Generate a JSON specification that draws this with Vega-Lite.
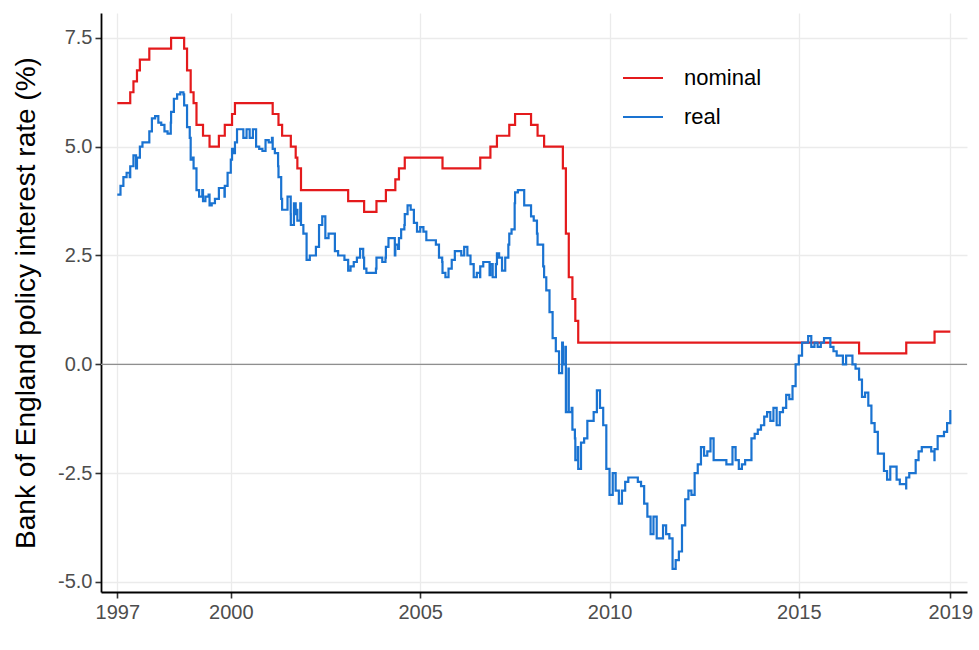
{
  "$schema": "https://vega.github.io/schema/vega-lite/v6.json",
  "autosize": {"type": "none"},
  "padding": {"left": 101, "top": 13, "right": 12, "bottom": 58},
  "width": 866,
  "height": 579,
  "background": "white",
  "config": {
    "font": "Liberation Sans",
    "view": {"stroke": null}
  },
  "datasets": {
    "rates": [
      {"date":"1997-01-01","series":"nominal","rate":6.0},
      {"date":"1997-05-06","series":"nominal","rate":6.25},
      {"date":"1997-06-06","series":"nominal","rate":6.5},
      {"date":"1997-07-10","series":"nominal","rate":6.75},
      {"date":"1997-08-07","series":"nominal","rate":7.0},
      {"date":"1997-11-06","series":"nominal","rate":7.25},
      {"date":"1998-06-04","series":"nominal","rate":7.5},
      {"date":"1998-10-08","series":"nominal","rate":7.25},
      {"date":"1998-11-05","series":"nominal","rate":6.75},
      {"date":"1998-12-10","series":"nominal","rate":6.25},
      {"date":"1999-01-07","series":"nominal","rate":6.0},
      {"date":"1999-02-04","series":"nominal","rate":5.5},
      {"date":"1999-04-08","series":"nominal","rate":5.25},
      {"date":"1999-06-10","series":"nominal","rate":5.0},
      {"date":"1999-09-08","series":"nominal","rate":5.25},
      {"date":"1999-11-04","series":"nominal","rate":5.5},
      {"date":"2000-01-13","series":"nominal","rate":5.75},
      {"date":"2000-02-10","series":"nominal","rate":6.0},
      {"date":"2001-02-08","series":"nominal","rate":5.75},
      {"date":"2001-04-05","series":"nominal","rate":5.5},
      {"date":"2001-05-10","series":"nominal","rate":5.25},
      {"date":"2001-08-02","series":"nominal","rate":5.0},
      {"date":"2001-09-18","series":"nominal","rate":4.75},
      {"date":"2001-10-04","series":"nominal","rate":4.5},
      {"date":"2001-11-08","series":"nominal","rate":4.0},
      {"date":"2003-02-06","series":"nominal","rate":3.75},
      {"date":"2003-07-10","series":"nominal","rate":3.5},
      {"date":"2003-11-06","series":"nominal","rate":3.75},
      {"date":"2004-02-05","series":"nominal","rate":4.0},
      {"date":"2004-05-06","series":"nominal","rate":4.25},
      {"date":"2004-06-10","series":"nominal","rate":4.5},
      {"date":"2004-08-05","series":"nominal","rate":4.75},
      {"date":"2005-08-04","series":"nominal","rate":4.5},
      {"date":"2006-08-03","series":"nominal","rate":4.75},
      {"date":"2006-11-09","series":"nominal","rate":5.0},
      {"date":"2007-01-11","series":"nominal","rate":5.25},
      {"date":"2007-05-10","series":"nominal","rate":5.5},
      {"date":"2007-07-05","series":"nominal","rate":5.75},
      {"date":"2007-12-06","series":"nominal","rate":5.5},
      {"date":"2008-02-07","series":"nominal","rate":5.25},
      {"date":"2008-04-10","series":"nominal","rate":5.0},
      {"date":"2008-10-08","series":"nominal","rate":4.5},
      {"date":"2008-11-06","series":"nominal","rate":3.0},
      {"date":"2008-12-04","series":"nominal","rate":2.0},
      {"date":"2009-01-08","series":"nominal","rate":1.5},
      {"date":"2009-02-05","series":"nominal","rate":1.0},
      {"date":"2009-03-05","series":"nominal","rate":0.5},
      {"date":"2016-08-04","series":"nominal","rate":0.25},
      {"date":"2017-11-02","series":"nominal","rate":0.5},
      {"date":"2018-08-02","series":"nominal","rate":0.75},
      {"date":"2019-01-01","series":"nominal","rate":0.75},

      {"date":"1997-01-01","series":"real","rate":3.9},
      {"date":"1997-02-01","series":"real","rate":4.1},
      {"date":"1997-03-01","series":"real","rate":4.3},
      {"date":"1997-04-01","series":"real","rate":4.4},
      {"date":"1997-05-01","series":"real","rate":4.3},
      {"date":"1997-05-06","series":"real","rate":4.55},
      {"date":"1997-06-01","series":"real","rate":4.55},
      {"date":"1997-06-06","series":"real","rate":4.8},
      {"date":"1997-07-01","series":"real","rate":4.5},
      {"date":"1997-07-10","series":"real","rate":4.75},
      {"date":"1997-08-01","series":"real","rate":4.75},
      {"date":"1997-08-07","series":"real","rate":5.0},
      {"date":"1997-09-01","series":"real","rate":5.1},
      {"date":"1997-10-01","series":"real","rate":5.1},
      {"date":"1997-11-01","series":"real","rate":5.1},
      {"date":"1997-11-06","series":"real","rate":5.35},
      {"date":"1997-12-01","series":"real","rate":5.65},
      {"date":"1998-01-01","series":"real","rate":5.7},
      {"date":"1998-02-01","series":"real","rate":5.55},
      {"date":"1998-03-01","series":"real","rate":5.5},
      {"date":"1998-04-01","series":"real","rate":5.35},
      {"date":"1998-05-01","series":"real","rate":5.3},
      {"date":"1998-06-01","series":"real","rate":5.55},
      {"date":"1998-06-04","series":"real","rate":5.8},
      {"date":"1998-07-01","series":"real","rate":6.1},
      {"date":"1998-08-01","series":"real","rate":6.2},
      {"date":"1998-09-01","series":"real","rate":6.25},
      {"date":"1998-10-01","series":"real","rate":6.2},
      {"date":"1998-10-08","series":"real","rate":5.95},
      {"date":"1998-11-01","series":"real","rate":5.95},
      {"date":"1998-11-05","series":"real","rate":5.45},
      {"date":"1998-12-01","series":"real","rate":5.2},
      {"date":"1998-12-10","series":"real","rate":4.7},
      {"date":"1999-01-01","series":"real","rate":4.75},
      {"date":"1999-01-07","series":"real","rate":4.5},
      {"date":"1999-02-01","series":"real","rate":4.5},
      {"date":"1999-02-04","series":"real","rate":4.0},
      {"date":"1999-03-01","series":"real","rate":3.85},
      {"date":"1999-04-01","series":"real","rate":4.0},
      {"date":"1999-04-08","series":"real","rate":3.75},
      {"date":"1999-05-01","series":"real","rate":3.85},
      {"date":"1999-06-01","series":"real","rate":3.9},
      {"date":"1999-06-10","series":"real","rate":3.65},
      {"date":"1999-07-01","series":"real","rate":3.7},
      {"date":"1999-08-01","series":"real","rate":3.8},
      {"date":"1999-09-01","series":"real","rate":3.8},
      {"date":"1999-09-08","series":"real","rate":4.05},
      {"date":"1999-10-01","series":"real","rate":4.05},
      {"date":"1999-11-01","series":"real","rate":3.85},
      {"date":"1999-11-04","series":"real","rate":4.1},
      {"date":"1999-12-01","series":"real","rate":4.4},
      {"date":"2000-01-01","series":"real","rate":4.7},
      {"date":"2000-01-13","series":"real","rate":4.95},
      {"date":"2000-02-01","series":"real","rate":4.85},
      {"date":"2000-02-10","series":"real","rate":5.1},
      {"date":"2000-03-01","series":"real","rate":5.4},
      {"date":"2000-04-01","series":"real","rate":5.4},
      {"date":"2000-05-01","series":"real","rate":5.2},
      {"date":"2000-06-01","series":"real","rate":5.4},
      {"date":"2000-07-01","series":"real","rate":5.2},
      {"date":"2000-08-01","series":"real","rate":5.4},
      {"date":"2000-09-01","series":"real","rate":5.0},
      {"date":"2000-10-01","series":"real","rate":4.95},
      {"date":"2000-11-01","series":"real","rate":4.9},
      {"date":"2000-12-01","series":"real","rate":5.15},
      {"date":"2001-01-01","series":"real","rate":5.1},
      {"date":"2001-02-01","series":"real","rate":5.2},
      {"date":"2001-02-08","series":"real","rate":4.95},
      {"date":"2001-03-01","series":"real","rate":4.85},
      {"date":"2001-04-01","series":"real","rate":4.55},
      {"date":"2001-04-05","series":"real","rate":4.3},
      {"date":"2001-05-01","series":"real","rate":3.8},
      {"date":"2001-05-10","series":"real","rate":3.55},
      {"date":"2001-06-01","series":"real","rate":3.55},
      {"date":"2001-07-01","series":"real","rate":3.85},
      {"date":"2001-08-01","series":"real","rate":3.45},
      {"date":"2001-08-02","series":"real","rate":3.2},
      {"date":"2001-09-01","series":"real","rate":3.7},
      {"date":"2001-09-18","series":"real","rate":3.45},
      {"date":"2001-10-01","series":"real","rate":3.55},
      {"date":"2001-10-04","series":"real","rate":3.3},
      {"date":"2001-11-01","series":"real","rate":3.7},
      {"date":"2001-11-08","series":"real","rate":3.2},
      {"date":"2001-12-01","series":"real","rate":3.0},
      {"date":"2002-01-01","series":"real","rate":2.4},
      {"date":"2002-02-01","series":"real","rate":2.5},
      {"date":"2002-03-01","series":"real","rate":2.5},
      {"date":"2002-04-01","series":"real","rate":2.7},
      {"date":"2002-05-01","series":"real","rate":3.2},
      {"date":"2002-06-01","series":"real","rate":3.4},
      {"date":"2002-07-01","series":"real","rate":2.9},
      {"date":"2002-08-01","series":"real","rate":3.0},
      {"date":"2002-09-01","series":"real","rate":3.0},
      {"date":"2002-10-01","series":"real","rate":2.6},
      {"date":"2002-11-01","series":"real","rate":2.5},
      {"date":"2002-12-01","series":"real","rate":2.5},
      {"date":"2003-01-01","series":"real","rate":2.4},
      {"date":"2003-02-01","series":"real","rate":2.4},
      {"date":"2003-02-06","series":"real","rate":2.15},
      {"date":"2003-03-01","series":"real","rate":2.25},
      {"date":"2003-04-01","series":"real","rate":2.35},
      {"date":"2003-05-01","series":"real","rate":2.45},
      {"date":"2003-06-01","series":"real","rate":2.65},
      {"date":"2003-07-01","series":"real","rate":2.45},
      {"date":"2003-07-10","series":"real","rate":2.2},
      {"date":"2003-08-01","series":"real","rate":2.1},
      {"date":"2003-09-01","series":"real","rate":2.1},
      {"date":"2003-10-01","series":"real","rate":2.1},
      {"date":"2003-11-01","series":"real","rate":2.2},
      {"date":"2003-11-06","series":"real","rate":2.45},
      {"date":"2003-12-01","series":"real","rate":2.45},
      {"date":"2004-01-01","series":"real","rate":2.35},
      {"date":"2004-02-01","series":"real","rate":2.45},
      {"date":"2004-02-05","series":"real","rate":2.7},
      {"date":"2004-03-01","series":"real","rate":2.9},
      {"date":"2004-04-01","series":"real","rate":2.9},
      {"date":"2004-05-01","series":"real","rate":2.5},
      {"date":"2004-05-06","series":"real","rate":2.75},
      {"date":"2004-06-01","series":"real","rate":2.65},
      {"date":"2004-06-10","series":"real","rate":2.9},
      {"date":"2004-07-01","series":"real","rate":3.1},
      {"date":"2004-08-01","series":"real","rate":3.2},
      {"date":"2004-08-05","series":"real","rate":3.45},
      {"date":"2004-09-01","series":"real","rate":3.65},
      {"date":"2004-10-01","series":"real","rate":3.55},
      {"date":"2004-11-01","series":"real","rate":3.25},
      {"date":"2004-12-01","series":"real","rate":3.05},
      {"date":"2005-01-01","series":"real","rate":3.15},
      {"date":"2005-02-01","series":"real","rate":3.05},
      {"date":"2005-03-01","series":"real","rate":2.85},
      {"date":"2005-04-01","series":"real","rate":2.85},
      {"date":"2005-05-01","series":"real","rate":2.85},
      {"date":"2005-06-01","series":"real","rate":2.75},
      {"date":"2005-07-01","series":"real","rate":2.45},
      {"date":"2005-08-01","series":"real","rate":2.35},
      {"date":"2005-08-04","series":"real","rate":2.1},
      {"date":"2005-09-01","series":"real","rate":2.0},
      {"date":"2005-10-01","series":"real","rate":2.2},
      {"date":"2005-11-01","series":"real","rate":2.4},
      {"date":"2005-12-01","series":"real","rate":2.6},
      {"date":"2006-01-01","series":"real","rate":2.6},
      {"date":"2006-02-01","series":"real","rate":2.5},
      {"date":"2006-03-01","series":"real","rate":2.7},
      {"date":"2006-04-01","series":"real","rate":2.5},
      {"date":"2006-05-01","series":"real","rate":2.3},
      {"date":"2006-06-01","series":"real","rate":2.0},
      {"date":"2006-07-01","series":"real","rate":2.1},
      {"date":"2006-08-01","series":"real","rate":2.0},
      {"date":"2006-08-03","series":"real","rate":2.25},
      {"date":"2006-09-01","series":"real","rate":2.35},
      {"date":"2006-10-01","series":"real","rate":2.35},
      {"date":"2006-11-01","series":"real","rate":2.05},
      {"date":"2006-11-09","series":"real","rate":2.3},
      {"date":"2006-12-01","series":"real","rate":2.0},
      {"date":"2007-01-01","series":"real","rate":2.3},
      {"date":"2007-01-11","series":"real","rate":2.55},
      {"date":"2007-02-01","series":"real","rate":2.45},
      {"date":"2007-03-01","series":"real","rate":2.15},
      {"date":"2007-04-01","series":"real","rate":2.45},
      {"date":"2007-05-01","series":"real","rate":2.75},
      {"date":"2007-05-10","series":"real","rate":3.0},
      {"date":"2007-06-01","series":"real","rate":3.1},
      {"date":"2007-07-01","series":"real","rate":3.7},
      {"date":"2007-07-05","series":"real","rate":3.95},
      {"date":"2007-08-01","series":"real","rate":4.0},
      {"date":"2007-09-01","series":"real","rate":4.0},
      {"date":"2007-10-01","series":"real","rate":3.65},
      {"date":"2007-11-01","series":"real","rate":3.65},
      {"date":"2007-12-01","series":"real","rate":3.65},
      {"date":"2007-12-06","series":"real","rate":3.4},
      {"date":"2008-01-01","series":"real","rate":3.3},
      {"date":"2008-02-01","series":"real","rate":3.0},
      {"date":"2008-02-07","series":"real","rate":2.75},
      {"date":"2008-03-01","series":"real","rate":2.75},
      {"date":"2008-04-01","series":"real","rate":2.25},
      {"date":"2008-04-10","series":"real","rate":2.0},
      {"date":"2008-05-01","series":"real","rate":1.7},
      {"date":"2008-06-01","series":"real","rate":1.2},
      {"date":"2008-07-01","series":"real","rate":0.6},
      {"date":"2008-08-01","series":"real","rate":0.3},
      {"date":"2008-09-01","series":"real","rate":-0.2},
      {"date":"2008-10-01","series":"real","rate":0.5},
      {"date":"2008-10-08","series":"real","rate":0.0},
      {"date":"2008-11-01","series":"real","rate":0.4},
      {"date":"2008-11-06","series":"real","rate":-1.1},
      {"date":"2008-12-01","series":"real","rate":-0.1},
      {"date":"2008-12-04","series":"real","rate":-1.1},
      {"date":"2009-01-01","series":"real","rate":-1.0},
      {"date":"2009-01-08","series":"real","rate":-1.5},
      {"date":"2009-02-01","series":"real","rate":-1.7},
      {"date":"2009-02-05","series":"real","rate":-2.2},
      {"date":"2009-03-01","series":"real","rate":-1.9},
      {"date":"2009-03-05","series":"real","rate":-2.4},
      {"date":"2009-04-01","series":"real","rate":-1.8},
      {"date":"2009-05-01","series":"real","rate":-1.7},
      {"date":"2009-06-01","series":"real","rate":-1.3},
      {"date":"2009-07-01","series":"real","rate":-1.3},
      {"date":"2009-08-01","series":"real","rate":-1.1},
      {"date":"2009-09-01","series":"real","rate":-0.6},
      {"date":"2009-10-01","series":"real","rate":-1.0},
      {"date":"2009-11-01","series":"real","rate":-1.4},
      {"date":"2009-12-01","series":"real","rate":-2.4},
      {"date":"2010-01-01","series":"real","rate":-3.0},
      {"date":"2010-02-01","series":"real","rate":-2.5},
      {"date":"2010-03-01","series":"real","rate":-2.9},
      {"date":"2010-04-01","series":"real","rate":-3.2},
      {"date":"2010-05-01","series":"real","rate":-2.9},
      {"date":"2010-06-01","series":"real","rate":-2.7},
      {"date":"2010-07-01","series":"real","rate":-2.6},
      {"date":"2010-08-01","series":"real","rate":-2.6},
      {"date":"2010-09-01","series":"real","rate":-2.6},
      {"date":"2010-10-01","series":"real","rate":-2.7},
      {"date":"2010-11-01","series":"real","rate":-2.8},
      {"date":"2010-12-01","series":"real","rate":-3.2},
      {"date":"2011-01-01","series":"real","rate":-3.5},
      {"date":"2011-02-01","series":"real","rate":-3.9},
      {"date":"2011-03-01","series":"real","rate":-3.5},
      {"date":"2011-04-01","series":"real","rate":-4.0},
      {"date":"2011-05-01","series":"real","rate":-4.0},
      {"date":"2011-06-01","series":"real","rate":-3.7},
      {"date":"2011-07-01","series":"real","rate":-3.9},
      {"date":"2011-08-01","series":"real","rate":-4.0},
      {"date":"2011-09-01","series":"real","rate":-4.7},
      {"date":"2011-10-01","series":"real","rate":-4.5},
      {"date":"2011-11-01","series":"real","rate":-4.3},
      {"date":"2011-12-01","series":"real","rate":-3.7},
      {"date":"2012-01-01","series":"real","rate":-3.1},
      {"date":"2012-02-01","series":"real","rate":-2.9},
      {"date":"2012-03-01","series":"real","rate":-3.0},
      {"date":"2012-04-01","series":"real","rate":-2.5},
      {"date":"2012-05-01","series":"real","rate":-2.3},
      {"date":"2012-06-01","series":"real","rate":-1.9},
      {"date":"2012-07-01","series":"real","rate":-2.1},
      {"date":"2012-08-01","series":"real","rate":-2.0},
      {"date":"2012-09-01","series":"real","rate":-1.7},
      {"date":"2012-10-01","series":"real","rate":-2.2},
      {"date":"2012-11-01","series":"real","rate":-2.2},
      {"date":"2012-12-01","series":"real","rate":-2.2},
      {"date":"2013-01-01","series":"real","rate":-2.2},
      {"date":"2013-02-01","series":"real","rate":-2.3},
      {"date":"2013-03-01","series":"real","rate":-2.3},
      {"date":"2013-04-01","series":"real","rate":-1.9},
      {"date":"2013-05-01","series":"real","rate":-2.2},
      {"date":"2013-06-01","series":"real","rate":-2.4},
      {"date":"2013-07-01","series":"real","rate":-2.3},
      {"date":"2013-08-01","series":"real","rate":-2.2},
      {"date":"2013-09-01","series":"real","rate":-2.2},
      {"date":"2013-10-01","series":"real","rate":-1.7},
      {"date":"2013-11-01","series":"real","rate":-1.6},
      {"date":"2013-12-01","series":"real","rate":-1.5},
      {"date":"2014-01-01","series":"real","rate":-1.4},
      {"date":"2014-02-01","series":"real","rate":-1.2},
      {"date":"2014-03-01","series":"real","rate":-1.1},
      {"date":"2014-04-01","series":"real","rate":-1.3},
      {"date":"2014-05-01","series":"real","rate":-1.0},
      {"date":"2014-06-01","series":"real","rate":-1.4},
      {"date":"2014-07-01","series":"real","rate":-1.1},
      {"date":"2014-08-01","series":"real","rate":-1.0},
      {"date":"2014-09-01","series":"real","rate":-0.7},
      {"date":"2014-10-01","series":"real","rate":-0.8},
      {"date":"2014-11-01","series":"real","rate":-0.5},
      {"date":"2014-12-01","series":"real","rate":0.0},
      {"date":"2015-01-01","series":"real","rate":0.2},
      {"date":"2015-02-01","series":"real","rate":0.5},
      {"date":"2015-03-01","series":"real","rate":0.5},
      {"date":"2015-04-01","series":"real","rate":0.65},
      {"date":"2015-05-01","series":"real","rate":0.4},
      {"date":"2015-06-01","series":"real","rate":0.5},
      {"date":"2015-07-01","series":"real","rate":0.4},
      {"date":"2015-08-01","series":"real","rate":0.5},
      {"date":"2015-09-01","series":"real","rate":0.6},
      {"date":"2015-10-01","series":"real","rate":0.6},
      {"date":"2015-11-01","series":"real","rate":0.4},
      {"date":"2015-12-01","series":"real","rate":0.3},
      {"date":"2016-01-01","series":"real","rate":0.2},
      {"date":"2016-02-01","series":"real","rate":0.2},
      {"date":"2016-03-01","series":"real","rate":0.0},
      {"date":"2016-04-01","series":"real","rate":0.2},
      {"date":"2016-05-01","series":"real","rate":0.2},
      {"date":"2016-06-01","series":"real","rate":0.0},
      {"date":"2016-07-01","series":"real","rate":-0.1},
      {"date":"2016-08-01","series":"real","rate":-0.1},
      {"date":"2016-08-04","series":"real","rate":-0.35},
      {"date":"2016-09-01","series":"real","rate":-0.75},
      {"date":"2016-10-01","series":"real","rate":-0.65},
      {"date":"2016-11-01","series":"real","rate":-0.95},
      {"date":"2016-12-01","series":"real","rate":-1.35},
      {"date":"2017-01-01","series":"real","rate":-1.55},
      {"date":"2017-02-01","series":"real","rate":-2.05},
      {"date":"2017-03-01","series":"real","rate":-2.05},
      {"date":"2017-04-01","series":"real","rate":-2.45},
      {"date":"2017-05-01","series":"real","rate":-2.65},
      {"date":"2017-06-01","series":"real","rate":-2.35},
      {"date":"2017-07-01","series":"real","rate":-2.35},
      {"date":"2017-08-01","series":"real","rate":-2.65},
      {"date":"2017-09-01","series":"real","rate":-2.75},
      {"date":"2017-10-01","series":"real","rate":-2.75},
      {"date":"2017-11-01","series":"real","rate":-2.85},
      {"date":"2017-11-02","series":"real","rate":-2.6},
      {"date":"2017-12-01","series":"real","rate":-2.5},
      {"date":"2018-01-01","series":"real","rate":-2.5},
      {"date":"2018-02-01","series":"real","rate":-2.2},
      {"date":"2018-03-01","series":"real","rate":-2.0},
      {"date":"2018-04-01","series":"real","rate":-1.9},
      {"date":"2018-05-01","series":"real","rate":-1.9},
      {"date":"2018-06-01","series":"real","rate":-1.9},
      {"date":"2018-07-01","series":"real","rate":-2.0},
      {"date":"2018-08-01","series":"real","rate":-2.2},
      {"date":"2018-08-02","series":"real","rate":-1.95},
      {"date":"2018-09-01","series":"real","rate":-1.65},
      {"date":"2018-10-01","series":"real","rate":-1.65},
      {"date":"2018-11-01","series":"real","rate":-1.55},
      {"date":"2018-12-01","series":"real","rate":-1.35},
      {"date":"2019-01-01","series":"real","rate":-1.05}
    ]
  },
  "layer": [
    {
      "data": {"values": [{"level": 0}]},
      "mark": {"type": "rule", "color": "#8f8f8f", "strokeWidth": 1.2},
      "encoding": {
        "y": {"field": "level", "type": "quantitative", "scale": {"domain": [-5.23, 8.07], "nice": false, "zero": false}}
      }
    },
    {
      "data": {"name": "rates"},
      "mark": {"type": "line", "interpolate": "step-after", "strokeWidth": 2.2},
      "encoding": {
        "x": {
          "field": "date",
          "type": "temporal",
          "scale": {
            "type": "utc",
            "domain": [
              {"year": 1996, "month": 7, "date": 28, "utc": true},
              {"year": 2019, "month": 6, "date": 11, "utc": true}
            ],
            "nice": false
          },
          "axis": {
            "title": null,
            "values": [
              {"year": 1997, "month": 1, "date": 1, "utc": true},
              {"year": 2000, "month": 1, "date": 1, "utc": true},
              {"year": 2005, "month": 1, "date": 1, "utc": true},
              {"year": 2010, "month": 1, "date": 1, "utc": true},
              {"year": 2015, "month": 1, "date": 1, "utc": true},
              {"year": 2019, "month": 1, "date": 1, "utc": true}
            ],
            "labelExpr": "utcFormat(datum.value, '%Y')",
            "domainColor": "black",
            "domainWidth": 1.8,
            "tickColor": "#333333",
            "tickWidth": 1.6,
            "tickSize": 6,
            "labelFontSize": 20,
            "labelColor": "#4d4d4d",
            "labelPadding": 4,
            "labelFlush": false,
            "labelOverlap": false,
            "grid": true,
            "gridColor": "#ebebeb",
            "gridWidth": 1.3
          }
        },
        "y": {
          "field": "rate",
          "type": "quantitative",
          "scale": {"domain": [-5.23, 8.07], "nice": false, "zero": false},
          "axis": {
            "title": "Bank of England policy interest rate (%)",
            "titleFontSize": 28,
            "titleFontWeight": "normal",
            "titleColor": "black",
            "titlePadding": 17,
            "values": [-5, -2.5, 0, 2.5, 5, 7.5],
            "labelExpr": "(datum.value < 0 ? '-' : '') + format(abs(datum.value), '.1f')",
            "domainColor": "black",
            "domainWidth": 1.8,
            "tickColor": "#333333",
            "tickWidth": 1.6,
            "tickSize": 6,
            "labelFontSize": 20,
            "labelColor": "#4d4d4d",
            "labelPadding": 3,
            "grid": true,
            "gridColor": "#ebebeb",
            "gridWidth": 1.3
          }
        },
        "color": {
          "field": "series",
          "type": "nominal",
          "scale": {"domain": ["nominal", "real"], "range": ["#e41a1c", "#1a73d1"]},
          "legend": {
            "title": null,
            "orient": "none",
            "legendX": 521,
            "legendY": 44,
            "symbolType": "stroke",
            "symbolSize": 1600,
            "symbolStrokeWidth": 2,
            "labelFontSize": 22,
            "labelColor": "black",
            "labelOffset": 20,
            "rowPadding": 7,
            "padding": 0
          }
        }
      }
    }
  ]
}
